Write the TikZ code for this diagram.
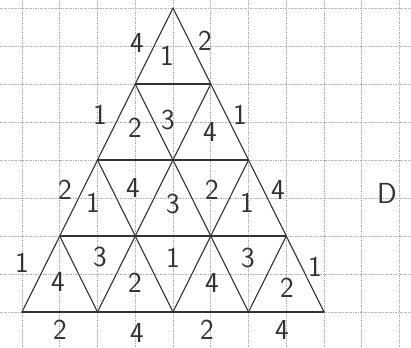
\documentclass[tikz,border=0pt]{standalone}
\begin{document}
\begin{tikzpicture}[x=1pt,y=-1pt,
  edge/.style={line width=1.1pt, draw=black!80, line cap=round, line join=round},
  gridline/.style={gray!60, line width=0.6pt, dash pattern=on 1.5pt off 1pt},
  lbl/.style={font=\fontsize{29}{29}\selectfont\sffamily, text=black!80, inner sep=0pt}]
\useasboundingbox (0,0) rectangle (411,347);
\fill[white] (0,0) rectangle (411,347);
% graph paper
\foreach \k in {0,...,10} \draw[gridline] ({22+37.75*\k},0) -- ({22+37.75*\k},347);
\foreach \k in {0,...,8} \draw[gridline] (0,{8+38*\k}) -- (411,{8+38*\k});
% lattice vertices
\foreach \r in {0,...,4} \foreach \k in {0,...,\r}
  \coordinate (v\r\k) at ({173+(2*\k-\r)*37.75},{8+\r*76});
% horizontal lines
\foreach \r in {1,...,4} \draw[edge] (v\r0) -- (v\r\r);
% lines parallel to the left side
\foreach \k in {0,...,3} \draw[edge] (v\k\k) -- (v4\k);
% lines parallel to the right side
\foreach \m/\n in {0/4,1/3,2/2,3/1} \draw[edge] (v\m0) -- (v4\n);
% labels
\node[lbl] (a1) at (137,43) {4};
\node[lbl] (a2) at (167,56) {1};
\node[lbl] (a3) at (205,41) {2};
\node[lbl] (b1) at (100,115) {1};
\node[lbl] (b2) at (135,128) {2};
\node[lbl] (b3) at (168,120) {3};
\node[lbl] (b4) at (210,132) {4};
\node[lbl] (b5) at (240,115) {1};
\node[lbl] (c1) at (65,190) {2};
\node[lbl] (c2) at (93,203) {1};
\node[lbl] (c3) at (133,188) {4};
\node[lbl] (c4) at (173,204) {3};
\node[lbl] (c5) at (212,190) {2};
\node[lbl] (c6) at (247,203) {1};
\node[lbl] (c7) at (278,190) {4};
\node[lbl] (d0) at (387,193) {D};
\node[lbl] (e1) at (22,263) {1};
\node[lbl] (e2) at (58,282) {4};
\node[lbl] (e3) at (100,257) {3};
\node[lbl] (e4) at (135,283) {2};
\node[lbl] (e5) at (173,258) {1};
\node[lbl] (e6) at (212,283) {4};
\node[lbl] (e7) at (248,258) {3};
\node[lbl] (e8) at (287,288) {2};
\node[lbl] (e9) at (315,267) {1};
\node[lbl] (f1) at (60,330) {2};
\node[lbl] (f2) at (137,333) {4};
\node[lbl] (f3) at (207,330) {2};
\node[lbl] (f4) at (282,330) {4};
\end{tikzpicture}
\end{document}
